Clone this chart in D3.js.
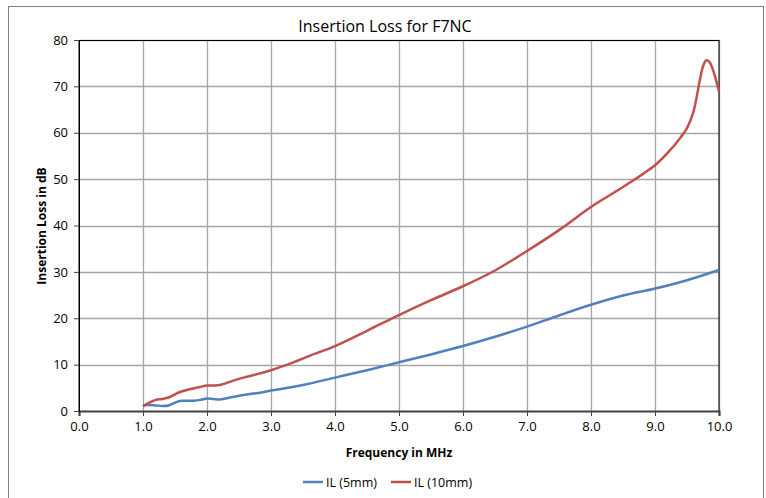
<!DOCTYPE html>
<html><head><meta charset="utf-8">
<script src="https://cdn.jsdelivr.net/npm/d3@7"></script>
<style>body{margin:0;background:#fff}svg{display:block}text{font-family:"Open Sans",Carlito,Calibri,sans-serif}</style>
</head><body>
<svg id="c" width="766" height="498"></svg>
<script>
const title = "Insertion Loss for F7NC";
const xTitle = "Frequency in MHz";
const yTitle = "Insertion Loss in dB";
const seriesNames = ["IL (5mm)", "IL (10mm)"];
const seriesColors = ["#4F81BD", "#C0504D"];
const xTicks = [0,1,2,3,4,5,6,7,8,9,10];
const yTicks = [0,10,20,30,40,50,60,70,80];

const freq5 = [1.0,1.1,1.2,1.3,1.4,1.5,1.6,1.7,1.8,1.9,2.0,2.1,2.2,2.4,2.6,2.8,3.0,3.5,4.0,4.5,5.0,5.5,6.0,6.5,7.0,7.5,8.0,8.5,9.0,9.5,10.0];
const il5   = [1.3,1.3,1.2,1.1,1.2,1.8,2.2,2.2,2.2,2.4,2.7,2.6,2.5,3.0,3.5,3.9,4.4,5.6,7.2,8.8,10.5,12.2,14.0,16.0,18.2,20.6,22.9,24.9,26.4,28.2,30.4];

const freq10 = [1.0,1.1,1.2,1.3,1.4,1.5,1.6,1.7,1.8,1.9,2.0,2.1,2.2,2.4,2.6,2.8,3.0,3.3,3.6,4.0,4.5,5.0,5.5,6.0,6.5,7.0,7.5,8.0,8.5,9.0,9.2,9.4,9.5,9.6,9.7,9.75,9.8,9.85,9.9,10.0];
const il10   = [1.0,1.8,2.4,2.6,2.9,3.6,4.2,4.6,4.9,5.2,5.5,5.5,5.6,6.5,7.3,8.0,8.8,10.2,11.9,14.0,17.3,20.7,23.9,26.9,30.3,34.5,39.0,44.0,48.3,53.0,55.7,59.0,61.0,64.5,71.3,74.3,75.6,75.3,73.8,68.9];

const svg = d3.select("#c");
const L = 79, R = 719, T = 40, B = 411;
const x = d3.scaleLinear().domain([0,10]).range([L,R]);
const y = d3.scaleLinear().domain([0,80]).range([B,T]);

// outer frame
svg.append("rect").attr("x",8.5).attr("y",6.5).attr("width",755).attr("height",500)
  .attr("fill","none").attr("stroke","#7f7f7f").attr("stroke-width",1);

// gridlines
svg.append("g").selectAll("line").data(yTicks.slice(1)).join("line")
  .attr("x1",L).attr("x2",R).attr("y1",d=>Math.round(y(d))+0.5).attr("y2",d=>Math.round(y(d))+0.5)
  .attr("stroke","#a6a6a6").attr("stroke-width",1.3);
svg.append("g").selectAll("line").data(xTicks.slice(1)).join("line")
  .attr("y1",T).attr("y2",B).attr("x1",d=>Math.round(x(d))+0.5).attr("x2",d=>Math.round(x(d))+0.5)
  .attr("stroke","#a6a6a6").attr("stroke-width",1.3);

// plot border
svg.append("rect").attr("x",L).attr("y",T+0.5).attr("width",R-L).attr("height",B-T)
  .attr("fill","none").attr("stroke","#000").attr("stroke-width",1);

// axes
const xAxis = d3.axisBottom(x).tickValues(xTicks).tickFormat(d3.format(".1f")).tickSize(5).tickPadding(6);
const yAxis = d3.axisLeft(y).tickValues(yTicks).tickFormat(d3.format("d")).tickSize(5).tickPadding(6);
const gx = svg.append("g").attr("transform",`translate(0,${B})`).call(xAxis);
const gy = svg.append("g").attr("transform",`translate(${L},0)`).call(yAxis);
[gx,gy].forEach(g=>{
  g.selectAll("text").attr("font-size",13).attr("fill","#000").style("font-family",'"Open Sans",sans-serif');
  g.selectAll("line").attr("stroke","#404040");
});
gx.select(".domain").attr("stroke","#404040").attr("stroke-width",2.2);
gy.select(".domain").attr("stroke","#000").attr("stroke-width",1);

// lines
const line = d3.line().x(d=>x(d[0])).y(d=>y(d[1])).curve(d3.curveCatmullRom.alpha(0.5));
const data = [d3.zip(freq5, il5), d3.zip(freq10, il10)];
svg.append("g").selectAll("path").data(data).join("path")
  .attr("d",line).attr("fill","none").attr("stroke",(d,i)=>seriesColors[i])
  .attr("stroke-width",2.5).attr("stroke-linejoin","round");

// titles
svg.append("text").attr("x",385).attr("y",32).attr("text-anchor","middle")
  .attr("font-size",16).text(title);
svg.append("text").attr("x",399).attr("y",457).attr("text-anchor","middle")
  .attr("font-size",12).attr("font-weight","bold").text(xTitle);
svg.append("text").attr("transform","translate(46,226) rotate(-90)").attr("text-anchor","middle")
  .attr("font-size",12).attr("font-weight","bold").text(yTitle);

// legend
const lg = svg.append("g");
const lx = [303, 391];
seriesNames.forEach((n,i)=>{
  lg.append("line").attr("x1",lx[i]).attr("x2",lx[i]+20).attr("y1",482).attr("y2",482)
    .attr("stroke",seriesColors[i]).attr("stroke-width",2.5);
  lg.append("text").attr("x",lx[i]+23).attr("y",486.5).attr("font-size",12.5).text(n);
});
</script>
</body></html>
